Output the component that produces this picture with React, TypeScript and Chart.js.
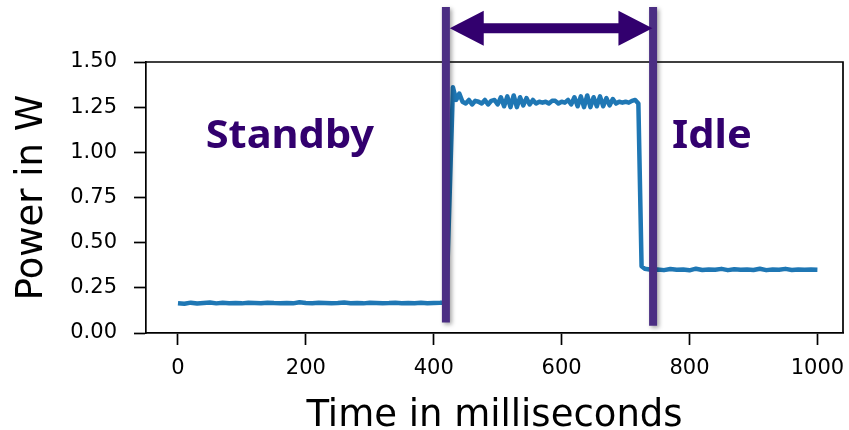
import React, { useEffect, useRef } from 'react';
import { Chart, registerables } from 'chart.js';

Chart.register(...registerables);

// ---- data ----
const timeMs = [
  0, 10, 20, 30, 40, 50, 60, 70, 80, 90,
  100, 110, 120, 130, 140, 150, 160, 170, 180, 190,
  200, 210, 220, 230, 240, 250, 260, 270, 280, 290,
  300, 310, 320, 330, 340, 350, 360, 370, 380, 390,
  400, 410, 415, 420, 425, 430, 435, 440, 445, 450,
  455, 460, 465, 470, 475, 480, 485, 490, 495, 500,
  505, 510, 515, 520, 525, 530, 535, 540, 545, 550,
  555, 560, 565, 570, 575, 580, 585, 590, 595, 600,
  605, 610, 615, 620, 625, 630, 635, 640, 645, 650,
  655, 660, 665, 670, 675, 680, 685, 690, 695, 700,
  705, 710, 715, 720, 725, 730, 740, 750, 760, 770,
  780, 790, 800, 810, 820, 830, 840, 850, 860, 870,
  880, 890, 900, 910, 920, 930, 940, 950, 960, 970,
  980, 990, 1000,
];

const powerW = [
  0.165, 0.162, 0.168, 0.163, 0.166, 0.169, 0.164, 0.167, 0.165, 0.166,
  0.164, 0.167, 0.166, 0.165, 0.168, 0.166, 0.165, 0.166, 0.164, 0.170,
  0.166, 0.165, 0.167, 0.166, 0.165, 0.166, 0.169, 0.165, 0.166, 0.164,
  0.167, 0.166, 0.165, 0.166, 0.168, 0.165, 0.166, 0.165, 0.167, 0.165,
  0.166, 0.167, 0.168, 0.20, 0.78, 1.36, 1.29, 1.325, 1.28, 1.27,
  1.29, 1.265, 1.285, 1.28, 1.27, 1.29, 1.265, 1.285, 1.29, 1.265,
  1.305, 1.255, 1.31, 1.25, 1.315, 1.25, 1.305, 1.26, 1.30, 1.265,
  1.29, 1.27, 1.28, 1.275, 1.28, 1.27, 1.285, 1.285, 1.27, 1.28,
  1.275, 1.29, 1.265, 1.305, 1.255, 1.31, 1.25, 1.315, 1.25, 1.305,
  1.255, 1.31, 1.255, 1.30, 1.26, 1.295, 1.27, 1.28, 1.275, 1.28,
  1.275, 1.285, 1.29, 1.27, 0.37, 0.356, 0.35, 0.352, 0.348, 0.354,
  0.35, 0.352, 0.347, 0.356, 0.349, 0.352, 0.35, 0.355, 0.348, 0.353,
  0.35, 0.351, 0.349, 0.356, 0.348, 0.352, 0.35, 0.355, 0.349, 0.352,
  0.35, 0.351, 0.35,
];

const xTickValues = [0, 200, 400, 600, 800, 1000];
const yTickValues = [0, 0.25, 0.5, 0.75, 1.0, 1.25, 1.5];

// annotation overlay (data coordinates)
const markerTimes = [419, 743];
const markerTopW = 1.805;
const markerBottomW = [0.058, 0.04];
const arrowW = 1.687;
const arrowTimes = [425, 742];
const phaseLabels = ['Standby', 'Idle'];
const phaseLabelTimes = [175, 835];
const phaseLabelW = 1.024;

const LINE_BLUE = '#1f77b4';
const MARKER_PURPLE = '#4b2e83';
const DARK_PURPLE = '#32006e';

export default function App() {
  const canvasRef = useRef<HTMLCanvasElement | null>(null);

  useEffect(() => {
    const canvas = canvasRef.current;
    if (!canvas) return;

    const spinePlugin = {
      id: 'spines',
      beforeDatasetsDraw(chart: any) {
        const { ctx, chartArea } = chart;
        ctx.save();
        ctx.strokeStyle = '#000';
        ctx.lineWidth = 1.7;
        ctx.beginPath();
        ctx.moveTo(chartArea.left, chartArea.top);
        ctx.lineTo(chartArea.right, chartArea.top);
        ctx.lineTo(chartArea.right, chartArea.bottom);
        ctx.stroke();
        ctx.restore();
      },
    };

    const shadowPlugin = {
      id: 'markerShadow',
      beforeDatasetDraw(chart: any, args: any) {
        const ds = chart.data.datasets[args.index];
        if (ds && ds.shadow) {
          const ctx = chart.ctx;
          ctx.save();
          ctx.shadowColor = 'rgba(0,0,0,0.35)';
          ctx.shadowBlur = 4;
          ctx.shadowOffsetX = 2;
          ctx.shadowOffsetY = 2;
        }
      },
      afterDatasetDraw(chart: any, args: any) {
        const ds = chart.data.datasets[args.index];
        if (ds && ds.shadow) chart.ctx.restore();
      },
    };

    const overlayPlugin = {
      id: 'overlay',
      afterDatasetsDraw(chart: any) {
        const { ctx } = chart;
        const xs = chart.scales.x;
        const ys = chart.scales.y;
        // double-headed arrow
        const x1 = xs.getPixelForValue(arrowTimes[0]);
        const x2 = xs.getPixelForValue(arrowTimes[1]);
        const y = ys.getPixelForValue(arrowW);
        const headLen = 34;
        const headHalf = 17.5;
        const shaftHalf = 5;
        ctx.save();
        ctx.fillStyle = DARK_PURPLE;
        ctx.beginPath();
        ctx.moveTo(x1, y);
        ctx.lineTo(x1 + headLen, y - headHalf);
        ctx.lineTo(x1 + headLen, y - shaftHalf);
        ctx.lineTo(x2 - headLen, y - shaftHalf);
        ctx.lineTo(x2 - headLen, y - headHalf);
        ctx.lineTo(x2, y);
        ctx.lineTo(x2 - headLen, y + headHalf);
        ctx.lineTo(x2 - headLen, y + shaftHalf);
        ctx.lineTo(x1 + headLen, y + shaftHalf);
        ctx.lineTo(x1 + headLen, y + headHalf);
        ctx.closePath();
        ctx.fill();
        // phase labels
        ctx.font = 'bold 40px "Noto Sans"';
        ctx.textAlign = 'center';
        ctx.textBaseline = 'alphabetic';
        phaseLabels.forEach((t, i) => {
          const px = xs.getPixelForValue(phaseLabelTimes[i]);
          const py = ys.getPixelForValue(phaseLabelW);
          ctx.save();
          ctx.translate(px, py);
          ctx.scale(1.04, 1);
          ctx.fillText(t, 0, 0);
          ctx.restore();
        });
        ctx.restore();
      },
    };

    const points = timeMs.map((t, i) => ({ x: t, y: powerW[i] }));

    const chart = new Chart(canvas, {
      type: 'line',
      data: {
        datasets: [
          {
            label: 'marker start',
            data: [
              { x: markerTimes[0], y: markerBottomW[0] },
              { x: markerTimes[0], y: markerTopW },
            ],
            borderColor: MARKER_PURPLE,
            borderWidth: 8,
            pointRadius: 0,
            clip: false,
            borderCapStyle: 'butt',
            shadow: true,
          } as any,
          {
            label: 'marker end',
            data: [
              { x: markerTimes[1], y: markerBottomW[1] },
              { x: markerTimes[1], y: markerTopW },
            ],
            borderColor: MARKER_PURPLE,
            borderWidth: 8,
            pointRadius: 0,
            clip: false,
            borderCapStyle: 'butt',
            shadow: true,
          } as any,
          {
            label: 'Power',
            data: points,
            borderColor: LINE_BLUE,
            borderWidth: 4.5,
            pointRadius: 0,
            tension: 0,
            borderJoinStyle: 'round',
            borderCapStyle: 'butt',
          },
        ],
      },
      options: {
        responsive: false,
        devicePixelRatio: 1,
        animation: false,
        events: [],
        layout: { padding: { top: 62, right: 6, left: 0, bottom: 0 } },
        plugins: { legend: { display: false }, tooltip: { enabled: false } },
        scales: {
          x: {
            type: 'linear',
            min: -50,
            max: 1040,
            afterBuildTicks: (s: any) => {
              s.ticks = xTickValues.map((v) => ({ value: v }));
            },
            afterFit: (s: any) => {
              s.height = 97;
              s.paddingLeft = 0;
              s.paddingRight = 0;
              s.paddingTop = 0;
              s.paddingBottom = 0;
            },
            ticks: {
              autoSkip: false,
              maxRotation: 0,
              color: '#000',
              font: { family: '"DejaVu Sans"', size: 21 },
              padding: 11,
              callback: (v: any) => String(v),
            },
            grid: {
              drawOnChartArea: false,
              drawTicks: true,
              tickLength: 12,
              tickWidth: 1.7,
              tickColor: '#000',
            },
            border: { display: true, color: '#000', width: 1.7 },
            title: {
              display: true,
              text: 'Time in milliseconds',
              color: '#000',
              font: { family: '"DejaVu Sans"', size: 37, lineHeight: 0.72 },
              padding: { top: 0, bottom: 0 },
            },
          },
          y: {
            type: 'linear',
            min: 0,
            max: 1.5,
            afterBuildTicks: (s: any) => {
              s.ticks = yTickValues.map((v) => ({ value: v }));
            },
            afterFit: (s: any) => {
              s.width = 146;
              s.paddingLeft = 0;
              s.paddingRight = 0;
              s.paddingTop = 0;
              s.paddingBottom = 0;
            },
            ticks: {
              autoSkip: false,
              color: '#000',
              font: { family: '"DejaVu Sans"', size: 21 },
              padding: 17,
              callback: (v: any) => Number(v).toFixed(2),
            },
            grid: {
              drawOnChartArea: false,
              drawTicks: true,
              tickLength: 12,
              tickWidth: 1.7,
              tickColor: '#000',
            },
            border: { display: true, color: '#000', width: 1.7 },
            title: {
              display: true,
              text: 'Power in W',
              color: '#000',
              font: { family: '"DejaVu Sans"', size: 37, lineHeight: 1.2 },
              padding: { top: 10, bottom: 0 },
            },
          },
        },
      },
      plugins: [spinePlugin, shadowPlugin, overlayPlugin],
    } as any);

    return () => chart.destroy();
  }, []);

  return (
    <div
      style={{
        position: 'fixed',
        left: 0,
        top: 0,
        width: 849,
        height: 430,
        background: '#fff',
      }}
    >
      <canvas ref={canvasRef} width={849} height={430} style={{ width: 849, height: 430, display: 'block' }} />
    </div>
  );
}
